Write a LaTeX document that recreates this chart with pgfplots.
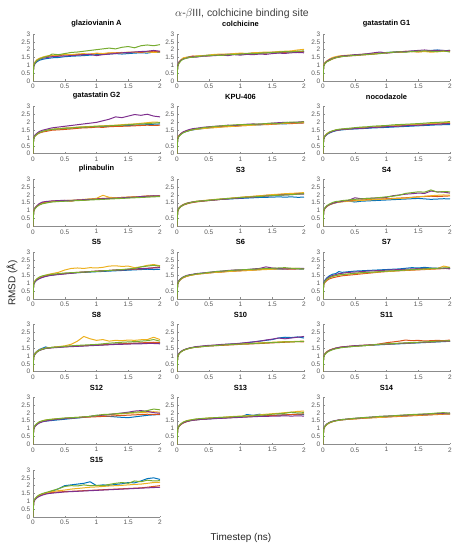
\documentclass[border=0pt]{standalone}
\usepackage{fontspec}
\setmainfont{Liberation Sans}
\usepackage{pgfplots}
\usepackage{pgfplotstable}
\pgfplotsset{compat=1.18}
\definecolor{mB}{HTML}{0072BD}
\definecolor{mO}{HTML}{D95319}
\definecolor{mY}{HTML}{EDB120}
\definecolor{mP}{HTML}{7E2F8E}
\definecolor{mG}{HTML}{77AC30}

\pgfplotstableread{
t a b c d e
0 0 0 0 0 0
0.01 0.90 0.95 1.00 0.92 0.98
0.03 1.10 1.18 1.20 1.12 1.15
0.06 1.22 1.32 1.35 1.28 1.30
0.1 1.32 1.42 1.45 1.38 1.40
0.15 1.38 1.50 1.52 1.45 1.48
0.2 1.42 1.55 1.58 1.48 1.55
0.25 1.45 1.58 1.62 1.52 1.60
0.3 1.48 1.62 1.60 1.55 1.72
0.4 1.50 1.60 1.65 1.58 1.68
0.5 1.55 1.68 1.70 1.60 1.75
0.6 1.58 1.65 1.68 1.62 1.82
0.7 1.60 1.70 1.72 1.65 1.85
0.8 1.62 1.68 1.75 1.68 1.90
0.9 1.65 1.72 1.70 1.70 1.95
1.0 1.68 1.75 1.78 1.62 2.00
1.1 1.70 1.72 1.75 1.68 2.05
1.2 1.72 1.78 1.80 1.72 2.10
1.3 1.75 1.80 1.78 1.75 2.05
1.4 1.72 1.82 1.80 1.80 2.15
1.5 1.75 1.80 1.85 1.82 2.20
1.6 1.78 1.85 1.82 1.85 2.12
1.7 1.80 1.82 1.88 1.88 2.25
1.8 1.78 1.88 1.85 1.90 2.30
1.9 1.85 1.90 1.82 1.95 2.25
2.0 1.82 1.88 1.85 1.90 2.32
}\tGlaz
\pgfplotstableread{
t a b c d e
0 0 0 0 0 0
0.01 0.95 0.92 1.00 0.98 0.90
0.03 1.18 1.15 1.22 1.20 1.12
0.06 1.32 1.30 1.35 1.33 1.28
0.1 1.42 1.45 1.48 1.40 1.40
0.15 1.50 1.48 1.52 1.46 1.45
0.2 1.55 1.55 1.50 1.50 1.52
0.25 1.52 1.60 1.55 1.55 1.50
0.3 1.58 1.56 1.60 1.52 1.55
0.4 1.60 1.62 1.62 1.58 1.60
0.5 1.65 1.60 1.66 1.60 1.62
0.6 1.63 1.68 1.70 1.62 1.65
0.7 1.68 1.65 1.72 1.66 1.63
0.8 1.70 1.72 1.70 1.62 1.68
0.9 1.72 1.70 1.75 1.68 1.70
1.0 1.70 1.75 1.78 1.65 1.72
1.1 1.75 1.73 1.76 1.70 1.75
1.2 1.78 1.78 1.80 1.68 1.74
1.3 1.76 1.80 1.82 1.72 1.78
1.4 1.80 1.78 1.85 1.70 1.80
1.5 1.82 1.84 1.83 1.75 1.82
1.6 1.80 1.85 1.88 1.78 1.85
1.7 1.85 1.83 1.90 1.76 1.88
1.8 1.84 1.88 1.92 1.80 1.86
1.9 1.86 1.90 1.98 1.82 1.90
2.0 1.88 1.86 2.02 1.80 1.92
}\tColc
\pgfplotstableread{
t a b c d e
0 0 0 0 0 0
0.01 1.00 0.98 1.02 0.96 0.95
0.03 1.15 1.12 1.18 1.14 1.10
0.06 1.25 1.24 1.28 1.26 1.22
0.1 1.35 1.32 1.40 1.36 1.30
0.15 1.45 1.40 1.50 1.44 1.42
0.2 1.52 1.48 1.55 1.50 1.48
0.25 1.55 1.52 1.60 1.55 1.53
0.3 1.58 1.56 1.62 1.60 1.56
0.4 1.62 1.60 1.65 1.63 1.60
0.5 1.65 1.62 1.66 1.68 1.64
0.6 1.68 1.66 1.70 1.70 1.66
0.7 1.72 1.68 1.72 1.74 1.70
0.8 1.75 1.72 1.74 1.80 1.72
0.9 1.78 1.76 1.78 1.85 1.75
1.0 1.82 1.80 1.80 1.78 1.80
1.1 1.85 1.82 1.84 1.82 1.83
1.2 1.88 1.85 1.82 1.85 1.86
1.3 1.86 1.90 1.86 1.88 1.84
1.4 1.90 1.88 1.88 1.92 1.88
1.5 1.92 1.86 1.85 1.95 1.90
1.6 1.90 1.90 1.88 1.98 1.92
1.7 1.95 1.88 1.84 1.94 1.90
1.8 1.98 1.92 1.86 1.96 1.88
1.9 1.94 1.90 1.90 1.95 1.92
2.0 1.95 1.96 1.88 1.92 1.85
}\tGone
\pgfplotstableread{
t a b c d e
0 0 0 0 0 0
0.01 1.00 0.98 1.02 1.00 0.96
0.03 1.15 1.12 1.16 1.18 1.12
0.06 1.25 1.22 1.26 1.30 1.24
0.1 1.35 1.32 1.36 1.42 1.34
0.15 1.42 1.38 1.42 1.50 1.42
0.2 1.48 1.42 1.48 1.55 1.48
0.25 1.52 1.46 1.52 1.60 1.52
0.3 1.55 1.50 1.56 1.65 1.55
0.4 1.58 1.52 1.60 1.70 1.58
0.5 1.62 1.55 1.64 1.75 1.62
0.6 1.64 1.58 1.66 1.80 1.64
0.7 1.66 1.62 1.70 1.85 1.68
0.8 1.68 1.65 1.72 1.90 1.70
0.9 1.70 1.66 1.74 1.95 1.72
1.0 1.72 1.70 1.76 2.00 1.75
1.1 1.74 1.68 1.78 2.10 1.76
1.2 1.75 1.72 1.80 2.20 1.78
1.3 1.76 1.74 1.82 2.35 1.80
1.4 1.78 1.75 1.85 2.30 1.82
1.5 1.80 1.76 1.88 2.40 1.85
1.6 1.82 1.78 1.90 2.50 1.88
1.7 1.84 1.80 1.94 2.45 1.90
1.8 1.85 1.82 1.98 2.52 1.92
1.9 1.88 1.80 2.02 2.40 1.95
2.0 1.90 1.82 2.00 2.35 1.98
}\tGtwo
\pgfplotstableread{
t a b c d e
0 0 0 0 0 0
0.01 0.95 0.98 1.00 0.96 0.92
0.03 1.12 1.15 1.16 1.14 1.10
0.06 1.25 1.28 1.26 1.28 1.22
0.1 1.35 1.38 1.36 1.40 1.34
0.15 1.42 1.45 1.44 1.48 1.42
0.2 1.48 1.50 1.50 1.55 1.48
0.25 1.52 1.55 1.53 1.60 1.54
0.3 1.55 1.58 1.56 1.62 1.58
0.4 1.60 1.62 1.60 1.68 1.65
0.5 1.65 1.66 1.64 1.72 1.70
0.6 1.68 1.70 1.66 1.75 1.74
0.7 1.72 1.72 1.70 1.78 1.78
0.8 1.75 1.76 1.72 1.82 1.80
0.9 1.78 1.74 1.75 1.80 1.84
1.0 1.80 1.78 1.78 1.85 1.86
1.1 1.82 1.80 1.80 1.88 1.85
1.2 1.85 1.84 1.82 1.90 1.88
1.3 1.84 1.86 1.85 1.88 1.90
1.4 1.88 1.85 1.88 1.92 1.92
1.5 1.90 1.88 1.90 1.95 1.95
1.6 1.92 1.90 1.92 1.98 1.92
1.7 1.90 1.94 1.95 2.00 1.98
1.8 1.94 1.92 1.96 1.98 2.02
1.9 1.96 1.95 1.98 2.02 2.00
2.0 1.98 1.96 2.00 2.05 2.04
}\tKpu
\pgfplotstableread{
t a b c d e
0 0 0 0 0 0
0.01 0.92 0.95 0.98 0.94 0.96
0.03 1.10 1.12 1.15 1.12 1.14
0.06 1.22 1.25 1.28 1.24 1.26
0.1 1.32 1.36 1.38 1.34 1.38
0.15 1.40 1.44 1.45 1.42 1.46
0.2 1.46 1.50 1.50 1.48 1.52
0.25 1.50 1.52 1.54 1.52 1.56
0.3 1.52 1.55 1.56 1.55 1.58
0.4 1.56 1.58 1.60 1.58 1.62
0.5 1.58 1.62 1.62 1.60 1.66
0.6 1.60 1.65 1.66 1.62 1.70
0.7 1.62 1.66 1.68 1.65 1.72
0.8 1.65 1.70 1.70 1.68 1.76
0.9 1.66 1.72 1.74 1.70 1.78
1.0 1.68 1.74 1.76 1.72 1.80
1.1 1.70 1.76 1.78 1.74 1.84
1.2 1.72 1.78 1.80 1.76 1.86
1.3 1.74 1.80 1.84 1.78 1.88
1.4 1.76 1.82 1.86 1.80 1.90
1.5 1.78 1.84 1.88 1.82 1.92
1.6 1.80 1.85 1.90 1.84 1.95
1.7 1.82 1.88 1.92 1.86 1.98
1.8 1.84 1.90 1.95 1.88 2.00
1.9 1.85 1.92 1.98 1.90 2.02
2.0 1.86 1.94 2.00 1.92 2.05
}\tNoco
\pgfplotstableread{
t a b c d e
0 0 0 0 0 0
0.01 0.95 0.98 0.96 0.94 0.92
0.03 1.15 1.18 1.14 1.16 1.12
0.06 1.28 1.30 1.26 1.30 1.25
0.1 1.40 1.42 1.38 1.45 1.36
0.15 1.48 1.50 1.46 1.55 1.44
0.2 1.52 1.55 1.50 1.58 1.48
0.25 1.55 1.58 1.55 1.60 1.52
0.3 1.58 1.60 1.58 1.62 1.55
0.4 1.60 1.62 1.62 1.64 1.58
0.5 1.62 1.65 1.64 1.66 1.60
0.6 1.64 1.60 1.66 1.65 1.62
0.7 1.66 1.68 1.68 1.68 1.64
0.8 1.70 1.66 1.72 1.70 1.66
0.9 1.72 1.72 1.75 1.72 1.68
1.0 1.74 1.75 1.78 1.74 1.70
1.1 1.76 1.78 1.98 1.76 1.72
1.2 1.78 1.80 1.85 1.78 1.74
1.3 1.80 1.82 1.82 1.80 1.76
1.4 1.82 1.84 1.84 1.82 1.78
1.5 1.84 1.86 1.86 1.84 1.80
1.6 1.86 1.88 1.88 1.86 1.82
1.7 1.88 1.90 1.90 1.90 1.84
1.8 1.90 1.94 1.92 1.92 1.86
1.9 1.92 1.92 1.94 1.95 1.88
2.0 1.94 1.95 1.92 1.93 1.90
}\tPlin
\pgfplotstableread{
t a b c d e
0 0 0 0 0 0
0.01 0.95 0.92 0.98 0.96 0.94
0.03 1.15 1.12 1.18 1.16 1.14
0.06 1.28 1.25 1.30 1.28 1.26
0.1 1.38 1.35 1.40 1.38 1.36
0.15 1.45 1.42 1.48 1.46 1.45
0.2 1.50 1.48 1.52 1.52 1.50
0.25 1.54 1.52 1.56 1.55 1.55
0.3 1.58 1.55 1.60 1.58 1.58
0.4 1.62 1.60 1.64 1.62 1.62
0.5 1.66 1.64 1.68 1.65 1.66
0.6 1.70 1.68 1.72 1.68 1.70
0.7 1.72 1.72 1.75 1.72 1.74
0.8 1.74 1.76 1.78 1.75 1.78
0.9 1.76 1.80 1.82 1.78 1.80
1.0 1.78 1.84 1.85 1.80 1.84
1.1 1.80 1.88 1.88 1.84 1.86
1.2 1.82 1.90 1.92 1.86 1.88
1.3 1.84 1.94 1.95 1.90 1.90
1.4 1.85 1.98 1.98 1.92 1.94
1.5 1.86 2.00 2.02 1.95 1.96
1.6 1.88 2.02 2.05 1.98 1.98
1.7 1.86 2.05 2.08 2.00 2.00
1.8 1.88 2.08 2.10 2.02 2.02
1.9 1.85 2.10 2.12 2.05 2.05
2.0 1.86 2.12 2.15 2.06 2.08
}\tSthree
\pgfplotstableread{
t a b c d e
0 0 0 0 0 0
0.01 0.95 0.98 0.96 0.94 0.98
0.03 1.15 1.16 1.14 1.15 1.18
0.06 1.28 1.28 1.26 1.28 1.32
0.1 1.38 1.38 1.36 1.38 1.42
0.15 1.45 1.46 1.44 1.46 1.52
0.2 1.50 1.52 1.50 1.52 1.58
0.25 1.55 1.55 1.54 1.56 1.60
0.3 1.58 1.58 1.56 1.60 1.64
0.4 1.62 1.62 1.60 1.65 1.68
0.5 1.55 1.66 1.62 1.82 1.72
0.6 1.60 1.68 1.65 1.76 1.75
0.7 1.62 1.70 1.68 1.78 1.78
0.8 1.64 1.72 1.70 1.80 1.80
0.9 1.66 1.74 1.72 1.82 1.84
1.0 1.68 1.76 1.74 1.85 1.88
1.1 1.70 1.78 1.76 1.95 1.92
1.2 1.72 1.80 1.78 2.00 1.98
1.3 1.74 1.82 1.80 2.05 2.10
1.4 1.76 1.85 1.84 2.08 2.15
1.5 1.78 1.88 1.88 2.12 2.20
1.6 1.75 1.90 1.92 2.10 2.18
1.7 1.72 1.92 1.95 2.25 2.32
1.8 1.74 1.90 1.98 2.20 2.18
1.9 1.76 1.92 2.00 2.18 2.22
2.0 1.75 1.94 1.98 2.12 2.20
}\tSfour
\pgfplotstableread{
t a b c d e
0 0 0 0 0 0
0.01 0.92 0.95 0.98 0.90 0.96
0.03 1.10 1.12 1.15 1.08 1.14
0.06 1.22 1.25 1.28 1.20 1.28
0.1 1.32 1.35 1.38 1.30 1.40
0.15 1.40 1.42 1.45 1.38 1.48
0.2 1.45 1.48 1.52 1.44 1.52
0.25 1.50 1.52 1.58 1.48 1.55
0.3 1.52 1.55 1.62 1.52 1.58
0.4 1.58 1.58 1.70 1.56 1.62
0.5 1.62 1.62 1.85 1.60 1.66
0.6 1.65 1.66 1.95 1.64 1.68
0.7 1.68 1.70 1.98 1.68 1.70
0.8 1.70 1.72 1.95 1.72 1.72
0.9 1.72 1.75 2.00 1.75 1.74
1.0 1.74 1.78 1.98 1.78 1.76
1.1 1.76 1.80 2.02 1.80 1.80
1.2 1.78 1.82 2.10 1.82 1.82
1.3 1.80 1.85 2.12 1.85 1.85
1.4 1.82 1.86 2.08 1.86 1.88
1.5 1.84 1.88 2.10 1.88 1.92
1.6 1.86 1.90 2.00 1.92 1.95
1.7 1.88 1.92 2.05 1.94 2.05
1.8 1.90 1.95 2.15 1.96 2.10
1.9 1.88 2.00 2.20 1.98 2.15
2.0 1.90 2.05 2.12 2.00 2.10
}\tSfive
\pgfplotstableread{
t a b c d e
0 0 0 0 0 0
0.01 0.95 0.92 0.98 0.96 0.94
0.03 1.15 1.12 1.16 1.18 1.14
0.06 1.28 1.25 1.28 1.30 1.28
0.1 1.38 1.36 1.38 1.42 1.40
0.15 1.46 1.44 1.45 1.50 1.48
0.2 1.52 1.50 1.50 1.55 1.52
0.25 1.56 1.54 1.54 1.58 1.56
0.3 1.60 1.58 1.58 1.62 1.60
0.4 1.64 1.62 1.62 1.66 1.64
0.5 1.68 1.66 1.66 1.70 1.70
0.6 1.70 1.70 1.70 1.75 1.74
0.7 1.74 1.72 1.72 1.78 1.78
0.8 1.78 1.76 1.75 1.82 1.80
0.9 1.80 1.78 1.78 1.85 1.84
1.0 1.82 1.80 1.80 1.86 1.86
1.1 1.84 1.82 1.82 1.88 1.88
1.2 1.86 1.85 1.84 1.92 1.90
1.3 1.88 1.88 1.86 1.95 1.92
1.4 1.90 1.90 1.88 2.05 1.95
1.5 1.92 1.92 1.90 1.98 1.96
1.6 1.90 1.94 1.92 1.95 1.98
1.7 1.92 1.92 1.94 1.92 2.00
1.8 1.94 1.90 1.95 1.94 1.96
1.9 1.92 1.92 1.96 1.95 1.94
2.0 1.90 1.94 1.92 1.96 1.92
}\tSsix
\pgfplotstableread{
t a b c d e
0 0 0 0 0 0
0.01 1.00 0.90 0.95 0.98 0.94
0.03 1.20 1.05 1.12 1.16 1.12
0.06 1.35 1.18 1.25 1.30 1.25
0.1 1.48 1.28 1.36 1.42 1.36
0.15 1.58 1.35 1.44 1.50 1.44
0.2 1.62 1.40 1.50 1.55 1.50
0.25 1.75 1.44 1.52 1.62 1.54
0.3 1.70 1.48 1.55 1.64 1.56
0.4 1.74 1.52 1.58 1.70 1.60
0.5 1.78 1.56 1.62 1.72 1.64
0.6 1.80 1.60 1.66 1.75 1.68
0.7 1.82 1.64 1.68 1.78 1.70
0.8 1.84 1.68 1.70 1.80 1.72
0.9 1.86 1.72 1.74 1.82 1.75
1.0 1.88 1.75 1.76 1.84 1.78
1.1 1.90 1.78 1.78 1.86 1.80
1.2 1.92 1.80 1.82 1.88 1.82
1.3 1.96 1.82 1.84 1.90 1.85
1.4 2.00 1.84 1.86 1.92 1.88
1.5 1.98 1.86 1.88 1.94 1.90
1.6 2.02 1.88 1.90 1.95 1.92
1.7 1.98 1.90 1.92 1.96 1.95
1.8 1.96 1.92 1.94 1.95 1.96
1.9 1.95 1.94 2.10 1.96 1.98
2.0 1.96 1.98 2.02 1.92 2.00
}\tSseven
\pgfplotstableread{
t a b c d e
0 0 0 0 0 0
0.01 0.98 0.95 0.96 0.92 0.94
0.03 1.18 1.15 1.15 1.10 1.12
0.06 1.30 1.28 1.28 1.24 1.26
0.1 1.42 1.38 1.38 1.35 1.36
0.15 1.50 1.45 1.45 1.42 1.44
0.2 1.58 1.50 1.50 1.48 1.50
0.25 1.52 1.52 1.52 1.50 1.52
0.3 1.55 1.55 1.55 1.52 1.55
0.4 1.58 1.58 1.60 1.55 1.58
0.5 1.60 1.60 1.65 1.58 1.62
0.6 1.62 1.62 1.75 1.60 1.65
0.7 1.64 1.64 1.95 1.62 1.68
0.8 1.66 1.66 2.25 1.64 1.70
0.9 1.68 1.68 2.10 1.66 1.72
1.0 1.70 1.70 2.00 1.68 1.74
1.1 1.72 1.72 2.05 1.70 1.78
1.2 1.74 1.74 1.95 1.72 1.82
1.3 1.76 1.76 2.00 1.74 1.85
1.4 1.78 1.78 1.98 1.75 1.88
1.5 1.80 1.80 2.02 1.76 1.90
1.6 1.80 1.82 2.00 1.78 1.92
1.7 1.82 1.84 2.04 1.78 1.95
1.8 1.82 1.86 2.05 1.80 1.98
1.9 1.84 1.88 2.20 1.80 2.05
2.0 1.82 1.86 2.05 1.78 1.95
}\tSeight
\pgfplotstableread{
t a b c d e
0 0 0 0 0 0
0.01 0.95 0.94 0.96 0.95 0.92
0.03 1.15 1.14 1.15 1.16 1.12
0.06 1.28 1.26 1.28 1.28 1.25
0.1 1.38 1.36 1.38 1.38 1.36
0.15 1.45 1.44 1.45 1.46 1.44
0.2 1.50 1.50 1.50 1.52 1.50
0.25 1.54 1.54 1.54 1.56 1.54
0.3 1.58 1.56 1.58 1.60 1.56
0.4 1.62 1.60 1.62 1.64 1.60
0.5 1.65 1.64 1.66 1.68 1.64
0.6 1.68 1.66 1.68 1.70 1.66
0.7 1.72 1.68 1.72 1.74 1.70
0.8 1.75 1.70 1.74 1.76 1.72
0.9 1.78 1.72 1.76 1.78 1.75
1.0 1.80 1.75 1.78 1.82 1.76
1.1 1.85 1.76 1.80 1.86 1.78
1.2 1.90 1.78 1.82 1.90 1.80
1.3 1.95 1.80 1.84 1.95 1.82
1.4 2.00 1.82 1.86 2.02 1.84
1.5 2.05 1.84 1.88 2.08 1.86
1.6 2.15 1.86 1.90 2.15 1.88
1.7 2.20 1.88 1.92 2.10 1.90
1.8 2.18 1.90 1.92 2.15 1.90
1.9 2.22 1.92 1.94 2.20 1.92
2.0 2.15 1.90 1.95 2.25 1.94
}\tSten
\pgfplotstableread{
t a b c d e
0 0 0 0 0 0
0.01 0.95 0.94 0.98 0.96 0.92
0.03 1.14 1.12 1.16 1.14 1.10
0.06 1.26 1.25 1.28 1.26 1.22
0.1 1.36 1.36 1.38 1.36 1.32
0.15 1.44 1.44 1.45 1.44 1.40
0.2 1.50 1.50 1.50 1.50 1.46
0.25 1.54 1.54 1.54 1.55 1.50
0.3 1.56 1.58 1.56 1.58 1.54
0.4 1.60 1.62 1.60 1.62 1.58
0.5 1.62 1.65 1.62 1.66 1.62
0.6 1.65 1.68 1.65 1.68 1.65
0.7 1.68 1.70 1.68 1.70 1.68
0.8 1.70 1.72 1.72 1.72 1.72
0.9 1.72 1.78 1.74 1.74 1.75
1.0 1.74 1.85 1.76 1.76 1.78
1.1 1.76 1.90 1.78 1.78 1.80
1.2 1.78 1.95 1.80 1.80 1.82
1.3 1.80 2.02 1.82 1.82 1.84
1.4 1.82 1.98 1.84 1.84 1.86
1.5 1.84 2.00 1.86 1.86 1.88
1.6 1.86 1.96 1.88 1.88 1.90
1.7 1.88 1.98 1.90 1.90 1.92
1.8 1.90 2.00 1.92 1.92 1.95
1.9 1.92 1.98 1.94 1.94 1.96
2.0 1.94 2.02 1.96 1.95 1.98
}\tSeleven
\pgfplotstableread{
t a b c d e
0 0 0 0 0 0
0.01 0.95 0.96 0.98 0.94 1.00
0.03 1.15 1.16 1.18 1.14 1.20
0.06 1.28 1.28 1.30 1.26 1.32
0.1 1.38 1.40 1.42 1.36 1.44
0.15 1.45 1.48 1.50 1.44 1.50
0.2 1.48 1.52 1.55 1.48 1.55
0.25 1.50 1.55 1.58 1.52 1.58
0.3 1.52 1.58 1.60 1.55 1.60
0.4 1.56 1.62 1.64 1.60 1.64
0.5 1.60 1.65 1.66 1.64 1.68
0.6 1.64 1.68 1.70 1.68 1.70
0.7 1.68 1.70 1.72 1.70 1.72
0.8 1.72 1.72 1.75 1.74 1.75
0.9 1.78 1.74 1.78 1.78 1.78
1.0 1.85 1.76 1.82 1.82 1.85
1.1 1.80 1.78 1.86 1.86 1.90
1.2 1.78 1.80 1.90 1.90 1.92
1.3 1.75 1.82 1.92 1.95 1.95
1.4 1.72 1.84 1.95 2.00 1.98
1.5 1.70 1.86 1.98 2.05 2.00
1.6 1.75 1.88 2.00 2.12 2.05
1.7 1.80 1.90 2.02 2.15 2.08
1.8 1.85 1.92 2.05 2.10 2.15
1.9 1.88 1.90 2.08 2.02 2.25
2.0 1.90 1.92 2.05 1.98 2.20
}\tStwelve
\pgfplotstableread{
t a b c d e
0 0 0 0 0 0
0.01 0.95 0.94 0.98 0.96 0.97
0.03 1.15 1.14 1.18 1.15 1.16
0.06 1.28 1.26 1.30 1.28 1.30
0.1 1.38 1.36 1.42 1.38 1.42
0.15 1.45 1.44 1.50 1.46 1.50
0.2 1.50 1.50 1.55 1.50 1.54
0.25 1.54 1.54 1.58 1.54 1.58
0.3 1.56 1.56 1.60 1.56 1.62
0.4 1.60 1.60 1.64 1.60 1.65
0.5 1.62 1.64 1.68 1.62 1.68
0.6 1.65 1.66 1.70 1.64 1.70
0.7 1.68 1.68 1.72 1.66 1.72
0.8 1.70 1.70 1.75 1.68 1.74
0.9 1.72 1.72 1.78 1.70 1.76
1.0 1.74 1.74 1.80 1.72 1.78
1.1 1.90 1.76 1.82 1.74 1.80
1.2 1.85 1.78 1.84 1.76 1.82
1.3 1.92 1.80 1.88 1.78 1.85
1.4 1.82 1.82 1.92 1.78 1.88
1.5 1.84 1.84 1.95 1.80 1.92
1.6 1.86 1.86 1.98 1.80 1.95
1.7 1.88 1.88 2.02 1.82 1.98
1.8 1.90 1.90 2.05 1.80 2.05
1.9 1.92 1.92 2.10 1.82 2.00
2.0 1.90 1.94 2.12 1.80 2.02
}\tSthirteen
\pgfplotstableread{
t a b c d e
0 0 0 0 0 0
0.01 0.95 0.94 0.96 0.98 0.95
0.03 1.15 1.14 1.15 1.16 1.14
0.06 1.28 1.26 1.28 1.30 1.28
0.1 1.38 1.36 1.38 1.40 1.38
0.15 1.45 1.44 1.45 1.48 1.46
0.2 1.50 1.50 1.50 1.52 1.50
0.25 1.54 1.54 1.54 1.56 1.54
0.3 1.56 1.56 1.56 1.58 1.58
0.4 1.60 1.60 1.60 1.62 1.62
0.5 1.64 1.62 1.62 1.66 1.66
0.6 1.66 1.65 1.66 1.68 1.70
0.7 1.68 1.68 1.68 1.72 1.72
0.8 1.72 1.70 1.70 1.75 1.75
0.9 1.74 1.72 1.72 1.78 1.78
1.0 1.76 1.74 1.75 1.80 1.80
1.1 1.78 1.76 1.78 1.82 1.82
1.2 1.80 1.78 1.80 1.84 1.85
1.3 1.82 1.80 1.82 1.86 1.88
1.4 1.84 1.82 1.84 1.88 1.90
1.5 1.86 1.84 1.86 1.90 1.92
1.6 1.88 1.86 1.88 1.92 1.94
1.7 1.90 1.88 1.90 1.94 1.96
1.8 1.92 1.90 1.92 1.96 2.00
1.9 1.94 1.92 1.94 1.98 2.02
2.0 1.95 1.92 1.96 2.00 1.98
}\tSfourteen
\pgfplotstableread{
t a b c d e
0 0 0 0 0 0
0.01 0.95 0.94 0.96 0.92 0.98
0.03 1.14 1.12 1.15 1.10 1.16
0.06 1.26 1.25 1.28 1.22 1.30
0.1 1.36 1.36 1.40 1.32 1.42
0.15 1.45 1.44 1.48 1.40 1.50
0.2 1.52 1.50 1.54 1.46 1.56
0.25 1.58 1.54 1.58 1.50 1.62
0.3 1.65 1.56 1.62 1.52 1.68
0.4 1.80 1.60 1.68 1.56 1.80
0.5 2.00 1.62 1.72 1.60 1.95
0.6 2.05 1.64 1.78 1.62 2.00
0.7 2.10 1.66 1.82 1.64 1.98
0.8 2.15 1.68 1.86 1.66 2.05
0.9 2.25 1.70 1.90 1.68 2.00
1.0 2.00 1.72 1.92 1.70 2.02
1.1 2.05 1.74 1.95 1.72 2.00
1.2 2.02 1.76 1.98 1.74 2.08
1.3 2.08 1.78 2.00 1.76 2.15
1.4 2.12 1.80 2.02 1.78 2.20
1.5 2.20 1.82 2.05 1.80 2.15
1.6 2.18 1.84 2.08 1.82 2.30
1.7 2.30 1.86 2.10 1.84 2.25
1.8 2.45 1.90 2.15 1.86 2.35
1.9 2.50 1.95 2.20 1.88 2.30
2.0 2.40 2.00 2.22 1.90 2.32
}\tSfifteen

\newcommand{\five}[1]{%
\addplot[mB] table[x=t,y=a]{#1};
\addplot[mO] table[x=t,y=b]{#1};
\addplot[mY] table[x=t,y=c]{#1};
\addplot[mP] table[x=t,y=d]{#1};
\addplot[mG] table[x=t,y=e]{#1};
}

\pgfplotsset{
  sub/.style={
    scale only axis, width=127bp, height=47bp, anchor=south west,
    xmin=0, xmax=2, ymin=0, ymax=3,
    xtick={0,0.5,1,1.5,2}, ytick={0,0.5,1,1.5,2,2.5,3},
    axis x line*=bottom, axis y line*=left,
    axis line style={-, black!45, line width=0.4bp},
    tick align=inside, major tick length=1.5bp,
    tick style={black!45, line width=0.4bp},
    tick label style={font=\fontsize{6.5}{6.5}\selectfont, text=black!65},
    yticklabel style={xshift=0.8bp},
    xticklabel style={yshift=0.3bp},
    /pgf/number format/assume math mode=true,
    title style={font=\bfseries\fontsize{7.5}{8}\selectfont, at={(0.5,1)}, anchor=south, yshift=0bp, inner sep=1bp},
    every axis plot/.append style={line width=1bp, no markers, line join=round},
  }
}

\begin{document}
\begin{tikzpicture}
\path[use as bounding box] (0,0) rectangle (468bp,550bp);
\begin{axis}[sub, at={(33bp,469bp)}, title={glaziovianin A}]\five{\tGlaz}\end{axis}
\begin{axis}[sub, at={(177bp,469bp)}, title={colchicine}]\five{\tColc}\end{axis}
\begin{axis}[sub, at={(323bp,469bp)}, title={gatastatin G1}]\five{\tGone}\end{axis}
\begin{axis}[sub, at={(33bp,396.3bp)}, title={gatastatin G2}]\five{\tGtwo}\end{axis}
\begin{axis}[sub, at={(177bp,396.3bp)}, title={KPU-406}]\five{\tKpu}\end{axis}
\begin{axis}[sub, at={(323bp,396.3bp)}, title={nocodazole}]\five{\tNoco}\end{axis}
\begin{axis}[sub, at={(33bp,323.7bp)}, title={plinabulin}]\five{\tPlin}\end{axis}
\begin{axis}[sub, at={(177bp,323.7bp)}, title={S3}]\five{\tSthree}\end{axis}
\begin{axis}[sub, at={(323bp,323.7bp)}, title={S4}]\five{\tSfour}\end{axis}
\begin{axis}[sub, at={(33bp,251bp)}, title={S5}]\five{\tSfive}\end{axis}
\begin{axis}[sub, at={(177bp,251bp)}, title={S6}]\five{\tSsix}\end{axis}
\begin{axis}[sub, at={(323bp,251bp)}, title={S7}]\five{\tSseven}\end{axis}
\begin{axis}[sub, at={(33bp,178.3bp)}, title={S8}]\five{\tSeight}\end{axis}
\begin{axis}[sub, at={(177bp,178.3bp)}, title={S10}]\five{\tSten}\end{axis}
\begin{axis}[sub, at={(323bp,178.3bp)}, title={S11}]\five{\tSeleven}\end{axis}
\begin{axis}[sub, at={(33bp,105.7bp)}, title={S12}]\five{\tStwelve}\end{axis}
\begin{axis}[sub, at={(177bp,105.7bp)}, title={S13}]\five{\tSthirteen}\end{axis}
\begin{axis}[sub, at={(323bp,105.7bp)}, title={S14}]\five{\tSfourteen}\end{axis}
\begin{axis}[sub, at={(33bp,33bp)}, title={S15}]\five{\tSfifteen}\end{axis}
\node[font=\fontsize{10.5}{12}\selectfont, text=black!75] at (242bp,536bp) {$\alpha$-$\beta$III, colchicine binding site};
\node[font=\fontsize{10}{12}\selectfont, text=black!85, rotate=90] at (12bp,267bp) {RMSD (Å)};
\node[font=\fontsize{10}{12}\selectfont, text=black!85] at (241bp,12bp) {Timestep (ns)};
\end{tikzpicture}
\end{document}
